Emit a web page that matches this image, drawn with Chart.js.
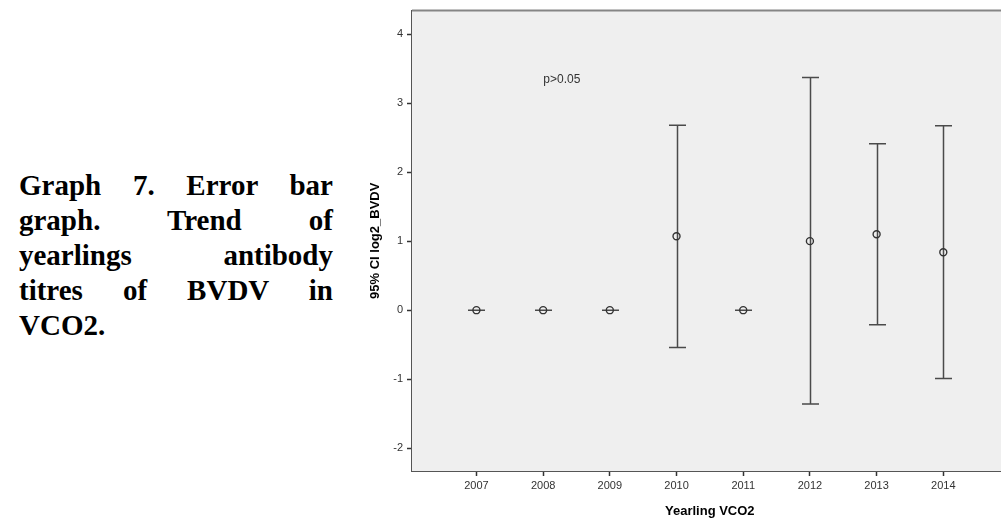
<!DOCTYPE html>
<html>
<head>
<meta charset="utf-8">
<script src="https://cdn.jsdelivr.net/npm/chart.js@4"></script>
<style>
	html, body { margin: 0; padding: 0; background: #fff; overflow: hidden; }
	#caption {
		position: absolute; left: 19px; top: 168px; width: 314px;
		font-family: "Liberation Serif", "Times New Roman", serif;
		font-weight: bold; font-size: 29px; line-height: 35px; color: #000;
	}
	#caption div { text-align: justify; text-align-last: justify; white-space: nowrap; }
	#caption div.last { text-align-last: left; }
	#chart { position: absolute; left: 364px; top: 0; }
</style>
</head>
<body>
<div id="caption">
	<div>Graph 7. Error bar</div>
	<div>graph. Trend of</div>
	<div>yearlings antibody</div>
	<div>titres of BVDV in</div>
	<div class="last">VCO2.</div>
</div>
<canvas id="chart" width="649" height="523"></canvas>
<script>
const years = [2007, 2008, 2009, 2010, 2011, 2012, 2013, 2014];
const means = [0, 0, 0, 1.07, 0, 1.00, 1.10, 0.84];
const lower = [0, 0, 0, -0.54, 0, -1.36, -0.21, -0.99];
const upper = [0, 0, 0, 2.68, 0, 3.37, 2.41, 2.67];
const yTicks = [-2, -1, 0, 1, 2, 3, 4];
const xTicks = years;
const pLabel = 'p>0.05';
const pLabelAt = [2008.28, 3.34];

const AXIS_FONT = 'Liberation Sans, Arial, sans-serif';

const errorBars = {
	id: 'errorBars',
	beforeDatasetsDraw(chart) {
		const { ctx, chartArea, scales } = chart;
		const x = scales.x, y = scales.y;
		ctx.save();
		// plot background
		ctx.fillStyle = '#efefef';
		ctx.fillRect(chartArea.left, chartArea.top, chartArea.right - chartArea.left + 10, chartArea.bottom - chartArea.top);
		// top frame line
		ctx.strokeStyle = '#858585';
		ctx.lineWidth = 2;
		ctx.beginPath();
		ctx.moveTo(chartArea.left, chartArea.top);
		ctx.lineTo(chartArea.right + 10, chartArea.top);
		ctx.stroke();
		// whiskers
		ctx.strokeStyle = '#4a4a4a';
		ctx.lineWidth = 1.5;
		for (let i = 0; i < years.length; i++) {
			const px = Math.round(x.getPixelForValue(years[i])) + 0.5;
			const lo = y.getPixelForValue(lower[i]);
			const hi = y.getPixelForValue(upper[i]);
			ctx.beginPath();
			ctx.moveTo(px, lo);
			ctx.lineTo(px, hi);
			ctx.moveTo(px - 8.5, lo);
			ctx.lineTo(px + 8.5, lo);
			ctx.moveTo(px - 8.5, hi);
			ctx.lineTo(px + 8.5, hi);
			ctx.stroke();
		}
		// annotation
		ctx.fillStyle = '#333';
		ctx.font = '12px ' + AXIS_FONT;
		ctx.textAlign = 'center';
		ctx.textBaseline = 'middle';
		ctx.fillText(pLabel, x.getPixelForValue(pLabelAt[0]), y.getPixelForValue(pLabelAt[1]));
		ctx.restore();
	}
};

new Chart(document.getElementById('chart'), {
	type: 'scatter',
	data: {
		datasets: [{
			data: years.map((yr, i) => ({ x: yr, y: means[i] })),
			pointStyle: 'circle',
			pointRadius: 3.5,
			pointBorderWidth: 1.4,
			pointBorderColor: '#333',
			pointBackgroundColor: 'rgba(0,0,0,0)'
		}]
	},
	options: {
		responsive: false,
		animation: false,
		devicePixelRatio: 1,
		layout: { padding: { top: 8, left: 0, right: 0, bottom: 0 } },
		plugins: {
			legend: { display: false },
			tooltip: { enabled: false }
		},
		scales: {
			x: {
				type: 'linear',
				min: 2006.034,
				max: 2014.964,
				afterBuildTicks: (s) => { s.ticks = xTicks.map(v => ({ value: v })); },
				afterFit: (s) => { s.height = 52; },
				ticks: {
					color: '#333',
					font: { family: AXIS_FONT, size: 11 },
					padding: 3,
					callback: (v) => String(v)
				},
				grid: { drawOnChartArea: false, tickLength: 5, color: '#333', tickWidth: 1.5 },
				border: { display: true, color: '#555', width: 2 },
				title: {
					display: true,
					text: 'Yearling VCO2',
					color: '#000',
					font: { family: AXIS_FONT, size: 13, weight: 'bold' },
					padding: { top: 6 }
				}
			},
			y: {
				type: 'linear',
				min: -2.33,
				max: 4.34,
				afterBuildTicks: (s) => { s.ticks = yTicks.map(v => ({ value: v })); },
				afterFit: (s) => { s.width = 48; },
				ticks: {
					color: '#333',
					font: { family: AXIS_FONT, size: 11 },
					padding: 4
				},
				grid: { drawOnChartArea: false, tickLength: 5, color: '#333', tickWidth: 1.5 },
				border: { display: true, color: '#555', width: 2 },
				title: {
					display: true,
					text: '95% CI log2_BVDV',
					color: '#000',
					font: { family: AXIS_FONT, size: 13, weight: 'bold' },
					padding: { bottom: 4 }
				}
			}
		}
	},
	plugins: [errorBars]
});
</script>
</body>
</html>
